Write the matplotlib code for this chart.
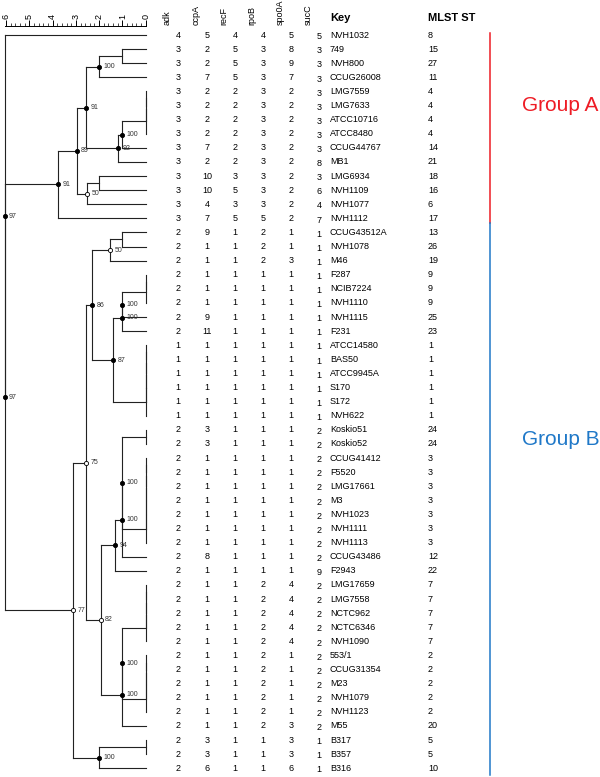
import matplotlib
matplotlib.use('Agg')
import matplotlib.pyplot as plt
from matplotlib.ticker import MultipleLocator

plt.rcParams['font.family'] = ['Liberation Sans', 'DejaVu Sans']

keys = ['NVH1032', '749', 'NVH800', 'CCUG26008', 'LMG7559', 'LMG7633', 'ATCC10716',
        'ATCC8480', 'CCUG44767', 'MB1', 'LMG6934', 'NVH1109', 'NVH1077', 'NVH1112',
        'CCUG43512A', 'NVH1078', 'M46', 'F287', 'NCIB7224', 'NVH1110', 'NVH1115', 'F231',
        'ATCC14580', 'BAS50', 'ATCC9945A', 'S170', 'S172', 'NVH622',
        'Koskio51', 'Koskio52', 'CCUG41412', 'F5520', 'LMG17661', 'M3', 'NVH1023',
        'NVH1111', 'NVH1113', 'CCUG43486', 'F2943', 'LMG17659', 'LMG7558', 'NCTC962',
        'NCTC6346', 'NVH1090', '553/1', 'CCUG31354', 'M23', 'NVH1079', 'NVH1123', 'M55',
        'B317', 'B357', 'B316']
adk = [4, 3, 3, 3, 3, 3, 3, 3, 3, 3, 3, 3, 3, 3,
       2, 2, 2, 2, 2, 2, 2, 2, 1, 1, 1, 1, 1, 1,
       2, 2, 2, 2, 2, 2, 2, 2, 2, 2, 2, 2, 2, 2, 2, 2, 2, 2, 2, 2, 2, 2, 2, 2, 2]
ccpA = [5, 2, 2, 7, 2, 2, 2, 2, 7, 2, 10, 10, 4, 7,
        9, 1, 1, 1, 1, 1, 9, 11, 1, 1, 1, 1, 1, 1,
        3, 3, 1, 1, 1, 1, 1, 1, 1, 8, 1, 1, 1, 1, 1, 1, 1, 1, 1, 1, 1, 1, 3, 3, 6]
recF = [4, 5, 5, 5, 2, 2, 2, 2, 2, 2, 3, 5, 3, 5,
        1, 1, 1, 1, 1, 1, 1, 1, 1, 1, 1, 1, 1, 1,
        1, 1, 1, 1, 1, 1, 1, 1, 1, 1, 1, 1, 1, 1, 1, 1, 1, 1, 1, 1, 1, 1, 1, 1, 1]
rpoB = [4, 3, 3, 3, 3, 3, 3, 3, 3, 3, 3, 3, 3, 5,
        2, 2, 2, 1, 1, 1, 1, 1, 1, 1, 1, 1, 1, 1,
        1, 1, 1, 1, 1, 1, 1, 1, 1, 1, 1, 2, 2, 2, 2, 2, 2, 2, 2, 2, 2, 2, 1, 1, 1]
spo0A = [5, 8, 9, 7, 2, 2, 2, 2, 2, 2, 2, 2, 2, 2,
         1, 1, 3, 1, 1, 1, 1, 1, 1, 1, 1, 1, 1, 1,
         1, 1, 1, 1, 1, 1, 1, 1, 1, 1, 1, 4, 4, 4, 4, 4, 1, 1, 1, 1, 1, 3, 3, 3, 6]
sucC = [5, 3, 3, 3, 3, 3, 3, 3, 3, 8, 3, 6, 4, 7,
        1, 1, 1, 1, 1, 1, 1, 1, 1, 1, 1, 1, 1, 1,
        2, 2, 2, 2, 2, 2, 2, 2, 2, 2, 9, 2, 2, 2, 2, 2, 2, 2, 2, 2, 2, 2, 1, 1, 1]
mlst = [8, 15, 27, 11, 4, 4, 4, 4, 14, 21, 18, 16, 6, 17,
        13, 26, 19, 9, 9, 9, 25, 23, 1, 1, 1, 1, 1, 1,
        24, 24, 3, 3, 3, 3, 3, 3, 3, 12, 22, 7, 7, 7, 7, 7, 2, 2, 2, 2, 2, 20, 5, 5, 10]
genes = ['adk', 'ccpA', 'recF', 'rpoB', 'spo0A', 'sucC']
profiles = [adk, ccpA, recF, rpoB, spo0A, sucC]

# identical profiles, joined at distance 0
ties = {
    'tA': ['LMG7559', 'LMG7633', 'ATCC10716', 'ATCC8480'],
    'tF': ['F287', 'NCIB7224', 'NVH1110'],
    'tS': ['ATCC14580', 'BAS50', 'ATCC9945A', 'S170', 'S172', 'NVH622'],
    'tK': ['Koskio51', 'Koskio52'],
    'tC': ['CCUG41412', 'F5520', 'LMG17661', 'M3', 'NVH1023', 'NVH1111', 'NVH1113'],
    'tL': ['LMG17659', 'LMG7558', 'NCTC962', 'NCTC6346', 'NVH1090'],
    'tN': ['553/1', 'CCUG31354', 'M23', 'NVH1079', 'NVH1123'],
    'tB': ['B317', 'B357'],
}
# (node, left, right, distance, bootstrap)
merges = [
    ('a1', '749', 'NVH800', 1.0, None),
    ('a2', 'a1', 'CCUG26008', 2.0, 100),
    ('a3', 'tA', 'CCUG44767', 1.0, 100),
    ('a4', 'a3', 'MB1', 1.19, 92),
    ('a5', 'a2', 'a4', 2.56, 91),
    ('a6', 'LMG6934', 'NVH1109', 2.0, None),
    ('a7', 'a6', 'NVH1077', 2.5, 50),
    ('a8', 'a5', 'a7', 2.95, 89),
    ('a9', 'a8', 'NVH1112', 3.76, 91),
    ('b1', 'CCUG43512A', 'NVH1078', 1.0, None),
    ('b2', 'b1', 'M46', 1.53, 50),
    ('b3', 'tF', 'NVH1115', 1.0, 100),
    ('b4', 'b3', 'F231', 1.0, 100),
    ('b5', 'b4', 'tS', 1.4, 87),
    ('b6', 'b2', 'b5', 2.3, 86),
    ('b7', 'tK', 'tC', 1.0, 100),
    ('b8', 'b7', 'CCUG43486', 1.0, 100),
    ('b9', 'b8', 'F2943', 1.32, 94),
    ('b10', 'tL', 'tN', 1.0, 100),
    ('b11', 'b10', 'M55', 1.0, 100),
    ('b12', 'b9', 'b11', 1.92, 82),
    ('b13', 'b6', 'b12', 2.56, 75),
    ('b14', 'tB', 'B316', 2.0, 100),
    ('b15', 'b13', 'b14', 3.12, 77),
    ('r1', 'a9', 'b15', 6.05, 97),
    ('r0', 'NVH1032', 'r1', 6.05, 97),
]

W, H = 600, 777
fig = plt.figure(figsize=(6, 7.77), dpi=100)
top_px = 26
ylo, yhi = 52.62, -0.64
# table axes over the whole width, x in pixels
tab = fig.add_axes([0, 0, 1, (H - top_px) / H])
tab.set_xlim(0, W)
tab.set_ylim(ylo, yhi)
tab.axis('off')

scale = 23.28
xmax = 6.06
left_px = 145.7 - xmax * scale
ax = fig.add_axes([left_px / W, 0, xmax * scale / W, (H - top_px) / H])
ax.set_xlim(xmax, 0)
ax.set_ylim(ylo, yhi)
ax.patch.set_alpha(0)
for s in ['left', 'right', 'bottom']:
    ax.spines[s].set_visible(False)
ax.spines['top'].set_linewidth(0.7)
ax.xaxis.tick_top()
ax.set_yticks([])
ax.xaxis.set_major_locator(MultipleLocator(1))
ax.xaxis.set_minor_locator(MultipleLocator(0.2))
ax.tick_params(axis='x', which='major', length=4, width=0.7, labelsize=6.5,
               labelrotation=90, pad=1)
ax.tick_params(axis='x', which='minor', length=2, width=0.5)

ypos = {k: i for i, k in enumerate(keys)}
hgt = {k: 0.0 for k in keys}
lc = '#222222'


def join(name, left, right, h):
    for c in (left, right):
        ax.plot([hgt[c], h], [ypos[c], ypos[c]], color=lc, lw=0.8, clip_on=False)
    ax.plot([h, h], [ypos[left], ypos[right]], color=lc, lw=0.8, clip_on=False)
    ypos[name] = (ypos[left] + ypos[right]) / 2
    hgt[name] = h


for t, members in ties.items():
    prev = members[0]
    for j, m in enumerate(members[1:]):
        nm = t if j == len(members) - 2 else t + str(j)
        join(nm, prev, m, 0.0)
        prev = nm

for name, l, r, h, boot in merges:
    join(name, l, r, h)
    if boot is not None:
        fc = 'black' if boot > 82 else 'white'
        ax.plot(h, ypos[name], 'o', ms=3, mfc=fc, mec='black', mew=0.6,
                clip_on=False, zorder=5)
        ax.annotate(str(boot), (h, ypos[name]), xytext=(3, 0),
                    textcoords='offset points', fontsize=5, color='#333333',
                    va='center', ha='left')

# allele table
col_x = [178, 207, 235, 263, 291, 319]
for g, vals, cx in zip(genes, profiles, col_x):
    tab.text(cx - 11, -0.7, g, rotation=90, ha='center', va='bottom', fontsize=6.5)
    dy = 0.12 if g == 'sucC' else 0
    for i, v in enumerate(vals):
        tab.text(cx, i + dy, str(v), ha='center', va='center', fontsize=6.5)

tab.text(330, -1.21, 'Key', fontsize=8, fontweight='bold', va='center', ha='left')
tab.text(428, -1.21, 'MLST ST', fontsize=8, fontweight='bold', va='center', ha='left')
for i, (k, st) in enumerate(zip(keys, mlst)):
    tab.text(330, i, k, fontsize=6.5, va='center', ha='left')
    tab.text(428, i, str(st), fontsize=6.5, va='center', ha='left')

red, blue = '#ee1c25', '#1f78c8'
tab.plot([490, 490], [-0.15, 13.35], color=red, lw=1.1)
tab.plot([490, 490], [13.35, 52.5], color=blue, lw=1.1)
tab.text(522, 5.03, 'Group A', color=red, fontsize=15, va='center', ha='left')
tab.text(522, 28.65, 'Group B', color=blue, fontsize=15, va='center', ha='left')

fig.savefig('out.png', dpi=100)
